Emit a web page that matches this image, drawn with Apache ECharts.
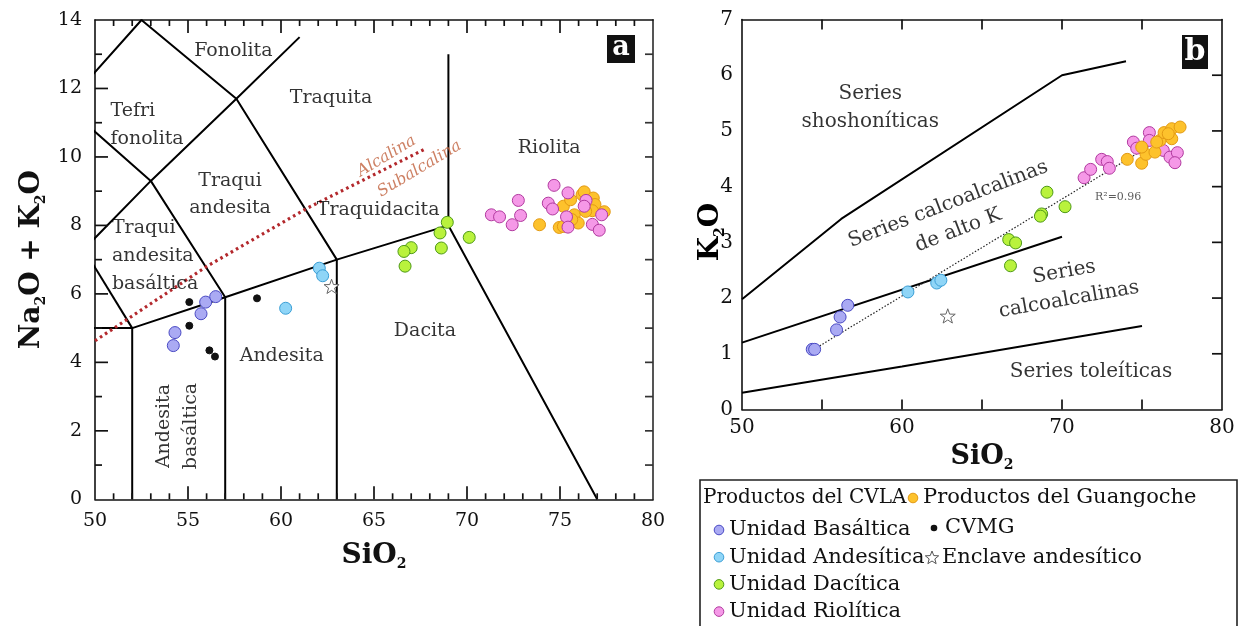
<!DOCTYPE html>
<html><head><meta charset="utf-8">
<script src="https://cdn.jsdelivr.net/npm/echarts@6.0.0/dist/echarts.min.js"></script>
<style>html,body{margin:0;padding:0;background:#fff}#c{width:1245px;height:626px}</style>
</head><body><div id="c"></div>
<script>
// ---------- DATA (panel a: TAS, SiO2 vs Na2O+K2O) ----------
const basalticaTAS = [[54.30,4.87],[54.21,4.49],[55.70,5.42],[55.95,5.76],[56.49,5.92]];
const andesiticaTAS = [[62.06,6.75],[62.24,6.53],[60.25,5.58]];
const daciticaTAS = [[68.94,8.09],[68.55,7.78],[68.62,7.34],[70.12,7.65],[67.00,7.35],[66.61,7.24],[66.67,6.81]];
const guangocheTAS = [[73.90,8.02],[74.96,7.94],[75.18,8.56],[75.57,8.75],[76.19,8.90],[76.30,8.98],[76.79,8.80],[76.88,8.61],[76.74,8.43],[75.77,8.31],[75.98,8.07],[75.63,8.17],[75.18,7.97],[77.38,8.40],[76.38,8.41]];
const rioliticaTAS = [[71.31,8.31],[71.75,8.25],[72.43,8.02],[72.88,8.29],[72.76,8.73],[74.68,9.17],[74.37,8.65],[74.60,8.48],[75.43,8.95],[76.40,8.73],[76.30,8.56],[75.35,8.25],[75.43,7.95],[76.74,8.03],[77.11,7.86],[77.24,8.31]];
const cvmgTAS = [[55.07,5.76],[55.07,5.07],[56.15,4.35],[56.45,4.17],[58.71,5.87]];
const enclaveTAS = [[62.72,6.22]];

// TAS field boundaries (Le Bas et al. 1986)
const tasLines = [
  [[52,0],[52,5]],
  [[57,0],[57,5.9]],
  [[63,0],[63,7]],
  [[77,0],[69,8],[69,13]],
  [[45,5],[52,5],[57,5.9],[63,7],[69,8]],
  [[49.4,7.3],[52,5]],
  [[45,5],[49.4,7.3],[53,9.3],[57.6,11.7],[61,13.5]],
  [[45,9.4],[48.4,11.5],[53,9.3],[57,5.9]],
  [[48.4,11.5],[52.5,14],[57.6,11.7],[63,7]]
];
// Irvine & Baragar alkaline / subalkaline divide
const alkalineLine = [[50,4.63],[56,6.80],[61.4,8.50],[67.7,10.22]];

// field names, one entry per text line
const tasFieldNames = ['Fonolita','Traquita','Tefri','fonolita','Traqui','andesita','Traqui','andesita','basáltica','Traquidacita','Riolita','Andesita','Andesita\nbasáltica','Dacita'];
const tasFieldAnchors = [[57.44,13.09],[62.69,11.72],[50.83,11.33],[50.83,10.53],[57.26,9.29],[57.26,8.51],[50.91,7.93],[50.91,7.11],[50.91,6.29],[65.22,8.46],[74.42,10.26],[60.04,4.19],[54.46,2.14],[67.74,4.90]];
const seriesDivideNames = ['Alcalina','Subalcalina'];
const seriesDivideAnchors = [[65.68,10.02],[67.44,9.65]];

// ---------- DATA (panel b: SiO2 vs K2O) ----------
const basalticaK = [[54.39,1.08],[54.54,1.08],[55.91,1.43],[56.13,1.66],[56.61,1.87]];
const andesiticaK = [[60.37,2.11],[62.17,2.27],[62.43,2.32]];
const daciticaK = [[66.67,3.05],[67.10,2.99],[66.78,2.58],[69.06,3.90],[68.73,3.51],[68.65,3.47],[70.19,3.64]];
const guangocheK = [[74.08,4.49],[74.98,4.42],[75.25,4.58],[75.81,4.62],[76.13,4.83],[76.38,4.97],[76.86,5.04],[77.38,5.07],[76.86,4.86],[74.98,4.71],[75.92,4.80],[76.64,4.95]];
const rioliticaK = [[71.38,4.16],[71.79,4.31],[72.48,4.49],[72.83,4.45],[72.96,4.33],[74.46,4.80],[74.67,4.69],[75.46,4.97],[75.46,4.83],[76.33,4.65],[76.75,4.53],[77.21,4.61],[77.06,4.43]];
const enclaveK = [[62.86,1.68]];
const trendLine = [[54.5,1.08],[77.6,5.10]];
const shoshoniticLine = [[50,1.98],[56.2,3.42],[70,6.0],[74,6.25]];
const highKLine = [[50,1.2],[70,3.1]];
const tholeiiticLine = [[50,0.3],[60,0.77],[75,1.5]];
const kFieldNames = ['Series\nshoshoníticas','Series calcoalcalinas\nde alto K','Series\ncalcoalcalinas','Series toleíticas'];
const kFieldAnchors = [[58.02,5.42],[63.20,3.45],[70.29,2.22],[71.81,0.68]];
const r2Text = 'R²=0.96';
const r2Anchor = [72.06,3.81];

// axis ticks
const xTicksTAS = [50,55,60,65,70,75,80];
const xMinorTAS = [51,52,53,54,56,57,58,59,61,62,63,64,66,67,68,69,71,72,73,74,76,77,78,79];
const yTicksTAS = [0,2,4,6,8,10,12,14];
const yMinorTAS = [1,3,5,7,9,11,13];
const xTicksK = [50,60,70,80];
const xTickMarksK = [55,60,65,70,75];
const yTicksK = [0,1,2,3,4,5,6,7];

const legendCol1 = ['Unidad Basáltica','Unidad Andesítica','Unidad Dacítica','Unidad Riolítica'];
const legendCol2 = ['Productos del Guangoche','CVMG','Enclave andesítico'];
const legendTitle = 'Productos del CVLA';

// ---------- STYLES ----------
const FONT = 'DejaVu Serif';
const STAR = 'path://M0,-10L2.35,-3.24L9.51,-3.09L3.8,1.24L5.88,8.09L0,4.2L-5.88,8.09L-3.8,1.24L-9.51,-3.09L-2.35,-3.24Z';
const sty = {
  'Unidad Basáltica': {fill:'#aaaaf3', stroke:'#4a4ac4', size:12},
  'Unidad Andesítica': {fill:'#8fd5f7', stroke:'#3b9fd6', size:12},
  'Unidad Dacítica': {fill:'#b9f23c', stroke:'#4f9a18', size:12},
  'Unidad Riolítica': {fill:'#f598e7', stroke:'#b13a9f', size:12},
  'Productos del Guangoche': {fill:'#fdc22c', stroke:'#e39a14', size:12},
  'CVMG': {fill:'#111', stroke:'#111', size:7},
  'Enclave andesítico': {fill:'#fff', stroke:'#666', size:15, symbol:STAR}
};
const leftAligned = {align:'left'};
const tasLabelStyle = {2:leftAligned, 3:leftAligned, 6:leftAligned, 7:leftAligned, 8:leftAligned, 12:{rotate:90}};
const kLabelStyle = {1:{rotate:21}, 2:{rotate:10}};

const G0 = {left:95, top:20, width:558, height:479.3};
const G1 = {left:742, top:19.5, width:480, height:390};
const EXT = [{x:[50,80], y:[0,14]}, {x:[50,80], y:[0,7]}];

function pts(name, data, gi){
  const s = sty[name];
  return {type:'scatter', name, data, xAxisIndex:gi, yAxisIndex:gi, silent:true, z:5,
    symbol: s.symbol || 'circle', symbolSize: s.size, symbolKeepAspect:true,
    itemStyle:{color:s.fill, borderColor:s.stroke, borderWidth:1, opacity:1}};
}
function line(data, gi, ls){
  return {type:'line', data, xAxisIndex:gi, yAxisIndex:gi, silent:true, symbol:'none', clip:true, z:3,
    lineStyle: Object.assign({color:'#000', width:2}, ls), animation:false};
}
function labels(names, anchors, gi, base, styles){
  return {type:'scatter', xAxisIndex:gi, yAxisIndex:gi, silent:true, z:4, symbolSize:1,
    itemStyle:{color:'rgba(0,0,0,0)'},
    data: names.map((n,i)=>{
      const st = (styles && styles[i]) || {};
      return {value:[anchors[i][0], anchors[i][1]], name:n,
        label:Object.assign({show:true, position:'inside', formatter:n, align:'center', verticalAlign:'middle'}, base, st)};
    })};
}
// inward tick marks along one frame side: thin rect symbols placed on the axis values
function ticks(gi, values, side, len, color){
  const e = EXT[gi];
  const data = values.map(v => side==='bottom' ? [v, e.y[0]] : side==='top' ? [v, e.y[1]] : side==='left' ? [e.x[0], v] : [e.x[1], v]);
  const vertical = (side==='bottom' || side==='top');
  const size = vertical ? [1.7, len] : [len, 1.7];
  const off = {bottom:[0,-len/2], top:[0,len/2], left:[len/2,0], right:[-len/2,0]}[side];
  return {type:'scatter', xAxisIndex:gi, yAxisIndex:gi, silent:true, z:6, clip:false, data,
    symbol:'rect', symbolSize:size, symbolOffset:off,
    itemStyle:{color:color||'#111', opacity:1}};
}

const subRich = (size, sub) => ({
  b:{fontFamily:FONT, fontWeight:'bold', fontSize:size, color:'#111', lineHeight:size+4},
  s:{fontFamily:FONT, fontWeight:'bold', fontSize:sub, color:'#111', verticalAlign:'bottom', lineHeight:sub}
});
const tickLbl = (fs, margin) => ({show:true, color:'#111', fontFamily:FONT, fontSize:fs, margin});

const series = [];
tasLines.forEach(l => series.push(line(l,0,{})));
series.push(line(alkalineLine,0,{color:'#b3282c', width:3.2, type:[2.6,3.4]}));
series.push(labels(tasFieldNames, tasFieldAnchors, 0, {fontFamily:FONT, fontSize:19, color:'#000', lineHeight:27}, tasLabelStyle));
series.push(labels(seriesDivideNames, seriesDivideAnchors, 0, {fontFamily:FONT, fontSize:16, fontStyle:'italic', color:'#c0603c', rotate:31}, {}));
series.push(pts('Unidad Basáltica', basalticaTAS, 0));
series.push(pts('CVMG', cvmgTAS, 0));
series.push(pts('Unidad Andesítica', andesiticaTAS, 0));
series.push(pts('Enclave andesítico', enclaveTAS, 0));
series.push(pts('Unidad Dacítica', daciticaTAS, 0));
series.push(pts('Productos del Guangoche', guangocheTAS, 0));
series.push(pts('Unidad Riolítica', rioliticaTAS, 0));
// panel a ticks
series.push(ticks(0, xTicksTAS.slice(1,-1), 'bottom', 13));
series.push(ticks(0, xMinorTAS, 'bottom', 6));
series.push(ticks(0, xTicksTAS.slice(1,-1), 'top', 13));
series.push(ticks(0, xMinorTAS, 'top', 6));
series.push(ticks(0, yTicksTAS.slice(1,-1), 'left', 13));
series.push(ticks(0, yMinorTAS, 'left', 7));
series.push(ticks(0, yTicksTAS.slice(1,-1).concat(yMinorTAS), 'right', 8, '#333'));

series.push(line(shoshoniticLine,1,{}));
series.push(line(highKLine,1,{}));
series.push(line(tholeiiticLine,1,{}));
series.push(line(trendLine,1,{width:1.2, type:[1.5,1.8], color:'#222'}));
series.push(labels(kFieldNames, kFieldAnchors, 1, {fontFamily:FONT, fontSize:20, color:'#000', lineHeight:28}, kLabelStyle));
series.push(labels([r2Text], [r2Anchor], 1, {fontFamily:FONT, fontSize:11, color:'#333', align:'left'}, {}));
series.push(pts('Unidad Basáltica', basalticaK, 1));
series.push(pts('Unidad Andesítica', andesiticaK, 1));
series.push(pts('Enclave andesítico', enclaveK, 1));
series.push(pts('Unidad Dacítica', daciticaK, 1));
series.push(pts('Unidad Riolítica', rioliticaK, 1));
series.push(pts('Productos del Guangoche', guangocheK, 1));
// panel b ticks
series.push(ticks(1, xTickMarksK, 'bottom', 10));
series.push(ticks(1, xTickMarksK, 'top', 10));
series.push(ticks(1, yTicksK.slice(1, -1), 'right', 10));

const axl = (c, w) => ({show:true, onZero:false, lineStyle:{color:c||'#111', width:w||1.6}});
const noTick = {show:false};
const option = {
  animation:false,
  backgroundColor:'#fff',
  grid:[
    Object.assign({containLabel:false, outerBoundsMode:'none'}, G0),
    Object.assign({containLabel:false, outerBoundsMode:'none'}, G1)
  ],
  xAxis:[
    {gridIndex:0, type:'value', position:'bottom', min:xTicksTAS[0], max:xTicksTAS[xTicksTAS.length-1], interval:5,
      axisLine:axl(), splitLine:{show:false}, axisTick:noTick, axisLabel:tickLbl(19,12),
      name:'{b|SiO}{s|2}', nameLocation:'middle', nameGap:40, nameTextStyle:{rich:subRich(28,14)}},
    {gridIndex:1, type:'value', position:'bottom', min:xTicksK[0], max:xTicksK[xTicksK.length-1], interval:10,
      axisLine:axl(), splitLine:{show:false}, axisTick:noTick, axisLabel:tickLbl(20,8),
      name:'{b|SiO}{s|2}', nameLocation:'middle', nameGap:32, nameTextStyle:{rich:subRich(27,14)}},
    {gridIndex:0, type:'value', position:'top', min:50, max:80, interval:5,
      axisLine:axl(), splitLine:{show:false}, axisTick:noTick, axisLabel:{show:false}},
    {gridIndex:1, type:'value', position:'top', min:50, max:80, interval:10,
      axisLine:axl(), splitLine:{show:false}, axisTick:noTick, axisLabel:{show:false}}
  ],
  yAxis:[
    {gridIndex:0, type:'value', position:'left', min:yTicksTAS[0], max:yTicksTAS[yTicksTAS.length-1], interval:2,
      axisLine:axl(), splitLine:{show:false}, axisTick:noTick, axisLabel:tickLbl(19,13),
      name:'{b|Na}{s|2}{b|O + K}{s|2}{b|O}', nameLocation:'middle', nameGap:47, nameRotate:90, nameTextStyle:{rich:subRich(28,14)}},
    {gridIndex:1, type:'value', position:'left', min:yTicksK[0], max:yTicksK[yTicksK.length-1], interval:1,
      axisLine:axl(), splitLine:{show:false}, axisTick:noTick, axisLabel:tickLbl(20,9)},
    {gridIndex:0, type:'value', position:'right', min:0, max:14, interval:1,
      axisLine:axl('#555',2), splitLine:{show:false}, axisTick:noTick, axisLabel:{show:false}},
    {gridIndex:1, type:'value', position:'right', min:0, max:7, interval:1,
      axisLine:axl(), splitLine:{show:false}, axisTick:noTick, axisLabel:{show:false}}
  ],
  series
};

function starPts(cx, cy, R, r){
  const p = [];
  for (let k = 0; k < 10; k++){
    const a = -Math.PI/2 + k*Math.PI/5;
    const rad = (k % 2 === 0) ? R : r;
    p.push([cx + rad*Math.cos(a), cy + rad*Math.sin(a)]);
  }
  return p;
}

const g = [];
// K2O title
g.push({type:'text', x:711, y:232, rotation:Math.PI/2, style:{text:'{b|K}{s|2}{b|O}', rich:subRich(28,14), align:'center', verticalAlign:'middle'}, z:11});
// panel tags
g.push({type:'rect', shape:{x:607, y:35, width:28, height:28}, style:{fill:'#111'}, z:10});
g.push({type:'text', x:621, y:48, style:{text:'a', fill:'#fff', font:'bold 27px "DejaVu Serif"', align:'center', verticalAlign:'middle'}, z:11});
g.push({type:'rect', shape:{x:1182, y:35, width:26, height:34}, style:{fill:'#111'}, z:10});
g.push({type:'text', x:1195, y:52, style:{text:'b', fill:'#fff', font:'bold 30px "DejaVu Serif"', align:'center', verticalAlign:'middle'}, z:11});
// legend box
g.push({type:'rect', shape:{x:700, y:480, width:537, height:160}, style:{fill:'#fff', stroke:'#222', lineWidth:1.6}, z:10});
const LF = '21px "DejaVu Serif"';
g.push({type:'text', x:703, y:498, style:{text:legendTitle, fill:'#111', font:'20px "DejaVu Serif"', verticalAlign:'middle'}, z:11});
legendCol1.forEach((n,i)=>{
  const y = 530 + i*27.2;
  const s = sty[n];
  g.push({type:'circle', shape:{cx:719, cy:y, r:4.8}, style:{fill:s.fill, stroke:s.stroke, lineWidth:1}, z:11});
  g.push({type:'text', x:729, y:y, style:{text:n, fill:'#111', font:LF, verticalAlign:'middle'}, z:11});
});
legendCol2.forEach((n,i)=>{
  const y = 498 + i*30;
  const s = sty[n];
  if (n === 'Enclave andesítico') {
    g.push({type:'polygon', shape:{points:starPts(932, y, 7, 3)}, style:{fill:'#fff', stroke:'#555', lineWidth:1}, z:11});
    g.push({type:'text', x:942, y:y, style:{text:n, fill:'#111', font:LF, verticalAlign:'middle'}, z:11});
  } else if (n === 'CVMG') {
    g.push({type:'circle', shape:{cx:934, cy:y, r:3.3}, style:{fill:s.fill}, z:11});
    g.push({type:'text', x:945, y:y, style:{text:n, fill:'#111', font:LF, verticalAlign:'middle'}, z:11});
  } else {
    g.push({type:'circle', shape:{cx:913, cy:y, r:4.8}, style:{fill:s.fill, stroke:s.stroke, lineWidth:1}, z:11});
    g.push({type:'text', x:923, y:y, style:{text:n, fill:'#111', font:LF, verticalAlign:'middle'}, z:11});
  }
});
option.graphic = g;

const chart = echarts.init(document.getElementById('c'));
chart.setOption(option);
</script>
</body></html>
